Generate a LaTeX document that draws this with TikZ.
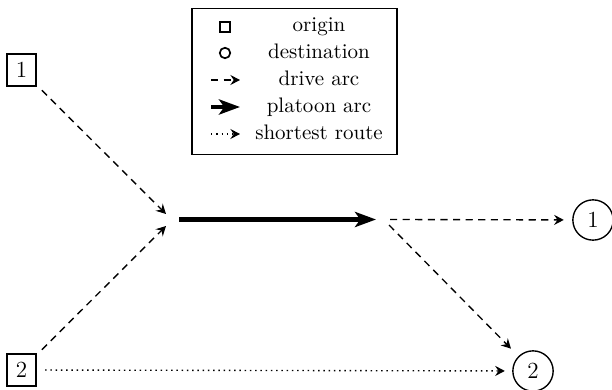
\documentclass[tikz,border=0pt]{standalone}
\usetikzlibrary{arrows.meta}
\begin{document}
\begin{tikzpicture}[x=0.4762pt,y=-0.4762pt, line width=0.65pt,
  orig/.style={draw, rectangle, minimum width=13.8pt, minimum height=15.2pt, inner sep=0pt, font=\fontsize{11}{13}\selectfont},
  dest/.style={draw, circle, minimum size=19.2pt, inner sep=0pt, font=\fontsize{11}{13}\selectfont},
  lsquare/.style={draw, rectangle, minimum size=4.8pt, inner sep=0pt, line width=0.8pt},
  lcircle/.style={draw, circle, minimum size=5pt, inner sep=0pt, line width=0.8pt},
  legendbox/.style={draw, rectangle, minimum width=97.6pt, minimum height=69.5pt, inner sep=0pt},
  legtext/.style={anchor=base, inner sep=0pt},
  drivearc/.style={dash pattern=on 3.4pt off 2.6pt, -{Stealth[length=4.6pt, width=4.8pt, inset=1.6pt]}},
  platoonarc/.style={line width=2pt, -{Stealth[length=10pt, width=7.2pt, inset=2.5pt]}},
  shortroute/.style={dash pattern=on 0.7pt off 1.8pt, -{Stealth[length=4.6pt, width=4.8pt, inset=1.6pt]}},
  ]
\useasboundingbox (0,0) rectangle (612,390);

% legend
\node[legendbox] (lg) at (294.5,81.5) {};
\node[lsquare] (ls) at (225,27) {};
\node[lcircle] (lc) at (225,53) {};
\coordinate (la1) at (211,80);  \coordinate (la2) at (240,80);
\coordinate (lb1) at (211,107); \coordinate (lb2) at (240,107);
\coordinate (lr1) at (211,134); \coordinate (lr2) at (240,134);
\draw[drivearc] (la1) -- (la2);
\draw[platoonarc] (lb1) -- (lb2);
\draw[shortroute] (lr1) -- (lr2);
\node[legtext] (t1) at (319,32) {origin};
\node[legtext] (t2) at (319,59) {destination};
\node[legtext] (t3) at (319,86) {drive arc};
\node[legtext] (t4) at (319,113) {platoon arc};
\node[legtext] (t5) at (319,140) {shortest route};

% nodes
\node[orig] (o1) at (21.5,70) {1};
\node[orig] (o2) at (21.5,370) {2};
\node[dest] (d1) at (593,220) {1};
\node[dest] (d2) at (533,371) {2};

\coordinate (m1) at (166,214);
\coordinate (m2) at (166,226);
\coordinate (p1) at (179,219.5);
\coordinate (p2) at (376,219.5);
\coordinate (s1) at (390,219.5);
\coordinate (s2) at (389,225);

\draw[drivearc, shorten <=3.5pt] (o1) -- (m1);
\draw[drivearc, shorten <=3.5pt] (o2) -- (m2);
\draw[platoonarc] (p1) -- (p2);
\draw[drivearc, shorten >=4pt] (s1) -- (d1);
\draw[drivearc, shorten >=5pt] (s2) -- (d2);
\draw[shortroute, shorten <=4pt, shorten >=3.5pt] (o2) -- (d2);
\end{tikzpicture}
\end{document}
